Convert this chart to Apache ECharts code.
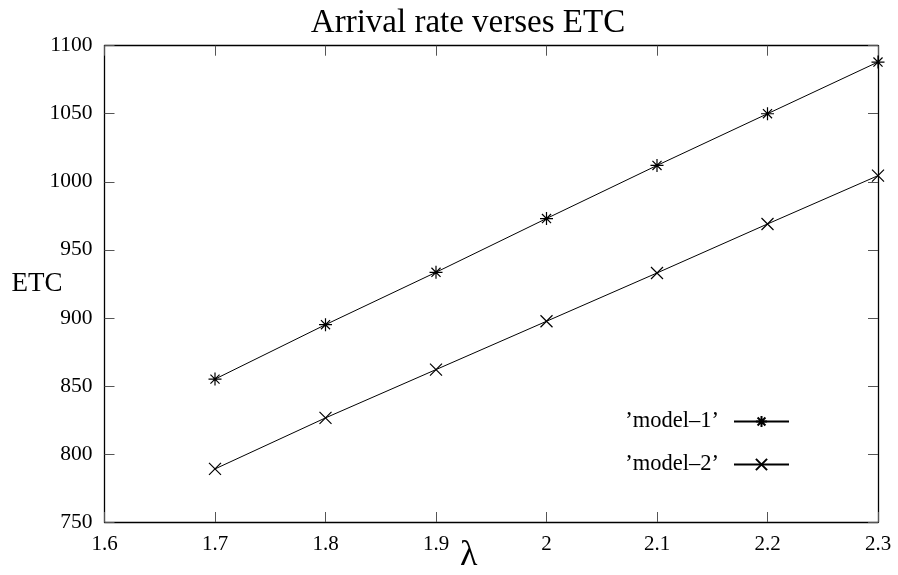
<!DOCTYPE html>
<html>
<head>
<meta charset="utf-8">
<script src="https://cdn.jsdelivr.net/npm/echarts@6/dist/echarts.min.js"></script>
<style>html,body{margin:0;padding:0;background:#fff}#c{width:898px;height:575px}</style>
</head>
<body>
<div id="c"></div>
<script>
const xValues = [1.7, 1.8, 1.9, 2.0, 2.1, 2.2, 2.3];
const model1 = [855, 895, 933.5, 973, 1012, 1050, 1088];
const model2 = [789, 826.5, 862, 897.5, 933, 969, 1004.5];
const seriesNames = ["\u2019model\u20131\u2019", "\u2019model\u20132\u2019"];
const titleText = 'Arrival rate verses ETC';
const yName = 'ETC';
const xName = '\u03bb';

const FONT = '"Liberation Serif", "Times New Roman", serif';
const starPath = 'path://M0,5L10,5M5,0L5,10M1.5,1.5L8.5,8.5M8.5,1.5L1.5,8.5';
const crossPath = 'path://M0,0L10,10M10,0L0,10';

const chart = echarts.init(document.getElementById('c'), null, {renderer: 'canvas'});
const axisLineStyle = {show: true, lineStyle: {color: '#000', width: 1.3}};
const tickStyle = {show: true, inside: true, length: 10, lineStyle: {color: '#555', width: 1}};

chart.setOption({
  animation: false,
  backgroundColor: '#fff',
  title: {
    text: titleText, left: 463, top: 2, textAlign: 'center',
    textStyle: {fontFamily: FONT, fontWeight: 'normal', fontSize: 33, color: '#000'}
  },
  graphic: [{
    type: 'text', left: 460, top: 538,
    style: {text: xName, fontFamily: FONT, fontSize: 36, fill: '#000'}
  }],
  grid: {left: 104.5, right: 20, top: 45.7, bottom: 53, containLabel: false, outerBoundsMode: 'none'},
  legend: {
    orient: 'vertical', right: 103, top: 405, align: 'right',
    itemWidth: 55, itemHeight: 14, itemGap: 20,
    textStyle: {fontFamily: FONT, fontSize: 22.5, color: '#000', padding: [0, 10, 0, 0]},
    data: seriesNames
  },
  xAxis: [{
    type: 'value', min: 1.6, max: 2.3, interval: 0.1, position: 'bottom',
    axisLine: axisLineStyle, axisTick: tickStyle, splitLine: {show: false},
    axisLabel: {fontFamily: FONT, fontSize: 21, color: '#000', margin: 12,
      formatter: v => (Math.round(v * 10) / 10).toString()}
  }, {
    type: 'value', min: 1.6, max: 2.3, interval: 0.1, position: 'top',
    axisLine: axisLineStyle, axisTick: tickStyle, splitLine: {show: false},
    axisLabel: {show: false}
  }],
  yAxis: [{
    type: 'value', min: 750, max: 1100, interval: 50, position: 'left',
    name: yName, nameLocation: 'middle', nameRotate: 0, nameGap: 42, nameMoveOverlap: false,
    nameTextStyle: {fontFamily: FONT, fontSize: 27, color: '#000', align: 'right'},
    axisLine: axisLineStyle, axisTick: tickStyle, splitLine: {show: false},
    axisLabel: {fontFamily: FONT, fontSize: 21.5, color: '#000', margin: 12,
      formatter: v => String(v)}
  }, {
    type: 'value', min: 750, max: 1100, interval: 50, position: 'right',
    axisLine: axisLineStyle, axisTick: tickStyle, splitLine: {show: false},
    axisLabel: {show: false}
  }],
  series: [{
    name: seriesNames[0], type: 'line',
    data: xValues.map((x, i) => [x, model1[i]]),
    symbol: starPath, symbolSize: 13,
    lineStyle: {color: '#000', width: 1},
    itemStyle: {color: '#000', borderColor: '#000', borderWidth: 1.2}
  }, {
    name: seriesNames[1], type: 'line',
    data: xValues.map((x, i) => [x, model2[i]]),
    symbol: crossPath, symbolSize: 12,
    lineStyle: {color: '#000', width: 1},
    itemStyle: {color: '#000', borderColor: '#000', borderWidth: 1.2}
  }]
});
</script>
</body>
</html>
